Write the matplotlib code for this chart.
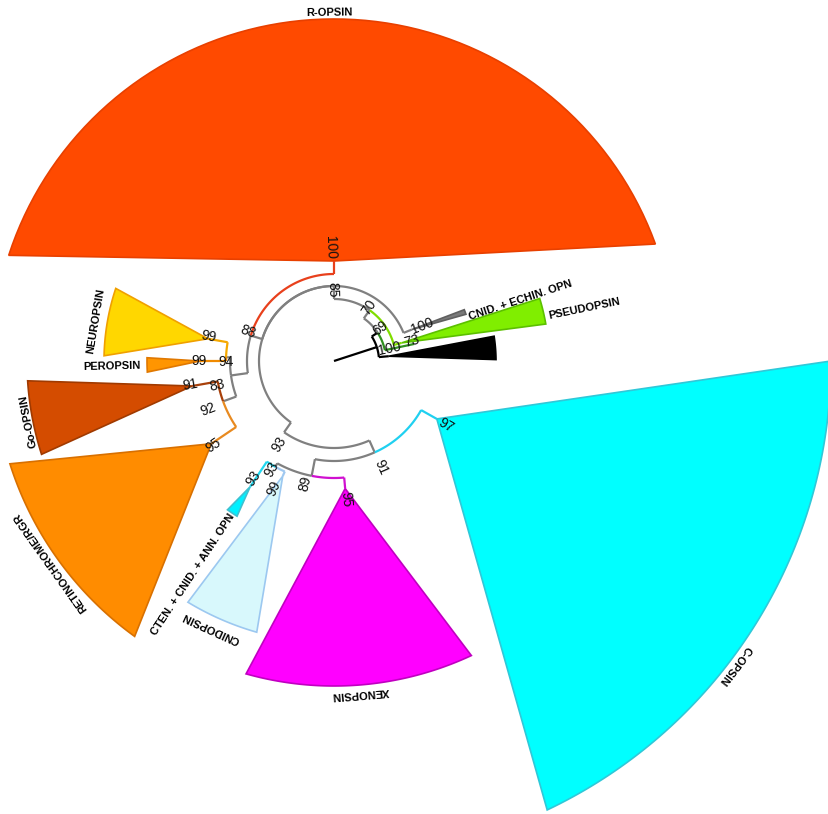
import numpy as np
import matplotlib.pyplot as plt
from matplotlib.patches import Polygon

plt.rcParams['font.family'] = ['Liberation Sans', 'DejaVu Sans']

cx, cy = 334, 361   # tree centre (px)

# tree nodes: radius (px) and angle (deg) in the circular layout
node_name = ['root', 'n0', 'OUT', 'n69', 'DG', 'n70', 'PSEUDO', 'n85', 'CNIDECH', 'n88', 'ROPSIN',
             'nL', 'n94', 'NEURO', 'PERO', 'n92', 'GO', 'RGR', 'n93', 'n91', 'COPSIN', 'n89',
             'XENO', 'n93b', 'CTEN', 'CNIDO']
node_parent = [None, 'root', 'n0', 'n0', 'n69', 'n69', 'n70', 'n70', 'n85', 'n85', 'n88',
               'n88', 'nL', 'n94', 'n94', 'nL', 'n92', 'n92', 'n85', 'n93', 'n91', 'n91',
               'n89', 'n89', 'n93b', 'n93b']
node_r = [0, 45, 55, 52, 82, 62, 70, 75, 84, 87, 100,
          104, 108, 128, 134, 118, 144, 148, 87, 100, 118, 117,
          128, 121, 151, 126]
node_t = [18, 18, 5, 33, 12, 55, 15, 90, 22, 163, 90,
          188, 178, 170, 180, 200, 190, 214, 235, 294, 330.6, 259,
          275, 241, 236.3, 246]
node_col = [None, 'black', 'black', 'black', '#2f8f1f', '#808080', '#80dd00', '#808080', '#808080',
            '#808080', '#e8401c', '#808080', '#808080', '#f5a800', '#f08a00', '#808080',
            '#a8400a', '#e88a20', '#808080', '#808080', '#20d0f0', '#808080', '#d010d0',
            '#808080', '#20d8f0', '#a0c8f0']

# collapsed clades (wedges)
wedge_node = ['OUT', 'PSEUDO', 'CNIDECH', 'ROPSIN', 'NEURO', 'PERO', 'GO', 'RGR', 'CTEN', 'CNIDO', 'XENO', 'COPSIN']
wedge_R = [162, 215, 140, 342, 230, 187, 307, 340, 183, 282, 325, 497]
wedge_t1 = [0.5, 9.9, 19.5, 20, 161.6, 179, 183.7, 197.6, 234.4, 238.8, 254.3, 295.4]
wedge_t2 = [8.8, 16.9, 21.5, 162, 178.7, 183.4, 197.7, 234.1, 238, 254.1, 295, 360]
wedge_fc = ['black', '#80ee00', '#7a7a7a', '#ff4a00', '#ffd700', '#ff9500', '#d44c00', '#ff8c00',
            '#00f0ff', '#d8f8fc', '#ff00ff', '#00ffff']
wedge_ec = ['black', '#5cc000', '#606060', '#e84000', '#f0a000', '#e07800', '#a03a00', '#d87000',
            '#40c0d0', '#9cc8f0', '#c000c0', '#30c8d8']

# clade names
lab_text = ['R-OPSIN', 'CNID. + ECHIN. OPN', 'PSEUDOPSIN', 'NEUROPSIN', 'PEROPSIN', 'Go-OPSIN',
            'RETINOCHROME/RGR', 'CTEN. + CNID. + ANN. OPN', 'CNIDOPSIN', 'XENOPSIN', 'C-OPSIN']
lab_r = [348, 196, 256, 242, 222, 311, 348, 256, 294, 333, 503]
lab_t = [90.7, 18.2, 11.7, 170.5, 181.3, 191.1, 215.4, 236.6, 245.4, 274.6, 322.8]
lab_kind = ['tan', 'rad', 'rad', 'tan', 'rad', 'tan', 'tan', 'rad', 'tan', 'tan', 'tan']

# bootstrap supports
sup_text = ['100', '85', '70', '69', '100', '73', '100', '88', '99', '99', '94', '91', '83', '92',
            '95', '93', '91', '97', '89', '95', '93', '93', '99']
sup_r = [114, 71, 64, 57, 57, 80, 95, 91, 128, 135, 108, 146, 119, 135,
         147, 100, 116, 129, 126, 139, 143, 125, 141]
sup_t = [92, 91, 57, 35, 12, 14.6, 21.7, 161, 169, 180, 180.5, 189.5, 192, 201,
         214.8, 237, 294, 330, 256.7, 275, 235.5, 240, 245]


def xy(r, t):
    a = np.radians(t)
    return cx + r * np.cos(a), cy - r * np.sin(a)


def upright(a):
    a = (a + 180) % 360 - 180
    if a > 90:
        a -= 180
    if a < -90:
        a += 180
    return a


fig = plt.figure(figsize=(8.29, 8.14), dpi=100)
ax = fig.add_axes([0, 0, 1, 1])
ax.set_xlim(0, 829)
ax.set_ylim(814, 0)
ax.axis('off')

idx = {n: i for i, n in enumerate(node_name)}

for i, n in enumerate(wedge_node):
    k = idx[n]
    ts = np.linspace(wedge_t1[i], wedge_t2[i], 80)
    pts = [xy(node_r[k], node_t[k])] + [xy(wedge_R[i], t) for t in ts]
    ax.add_patch(Polygon(pts, closed=True, fc=wedge_fc[i], ec=wedge_ec[i], lw=1.2, zorder=1))

for i, n in enumerate(node_name):
    p = node_parent[i]
    if p is None:
        continue
    j = idx[p]
    ts = np.linspace(node_t[j], node_t[i], 80)
    ax.plot(*xy(node_r[j], ts), color=node_col[i], lw=1.6, zorder=2, solid_capstyle='butt')
    x0, y0 = xy(node_r[j], node_t[i])
    x1, y1 = xy(node_r[i], node_t[i])
    ax.plot([x0, x1], [y0, y1], color=node_col[i], lw=1.6, zorder=2, solid_capstyle='butt')

for s, r, t in zip(sup_text, sup_r, sup_t):
    x, y = xy(r, t)
    ax.text(x, y, s, fontsize=10, color='#111111', ha='center', va='center',
            rotation=upright(t), rotation_mode='anchor', zorder=3)

for s, r, t, k in zip(lab_text, lab_r, lab_t, lab_kind):
    x, y = xy(r, t)
    rot = t - 90 if k == 'tan' else upright(t)
    ax.text(x, y, s, fontsize=8, fontweight='bold', color='black', ha='center', va='center',
            rotation=rot, rotation_mode='anchor', zorder=3)

fig.savefig('out.png', dpi=100)
